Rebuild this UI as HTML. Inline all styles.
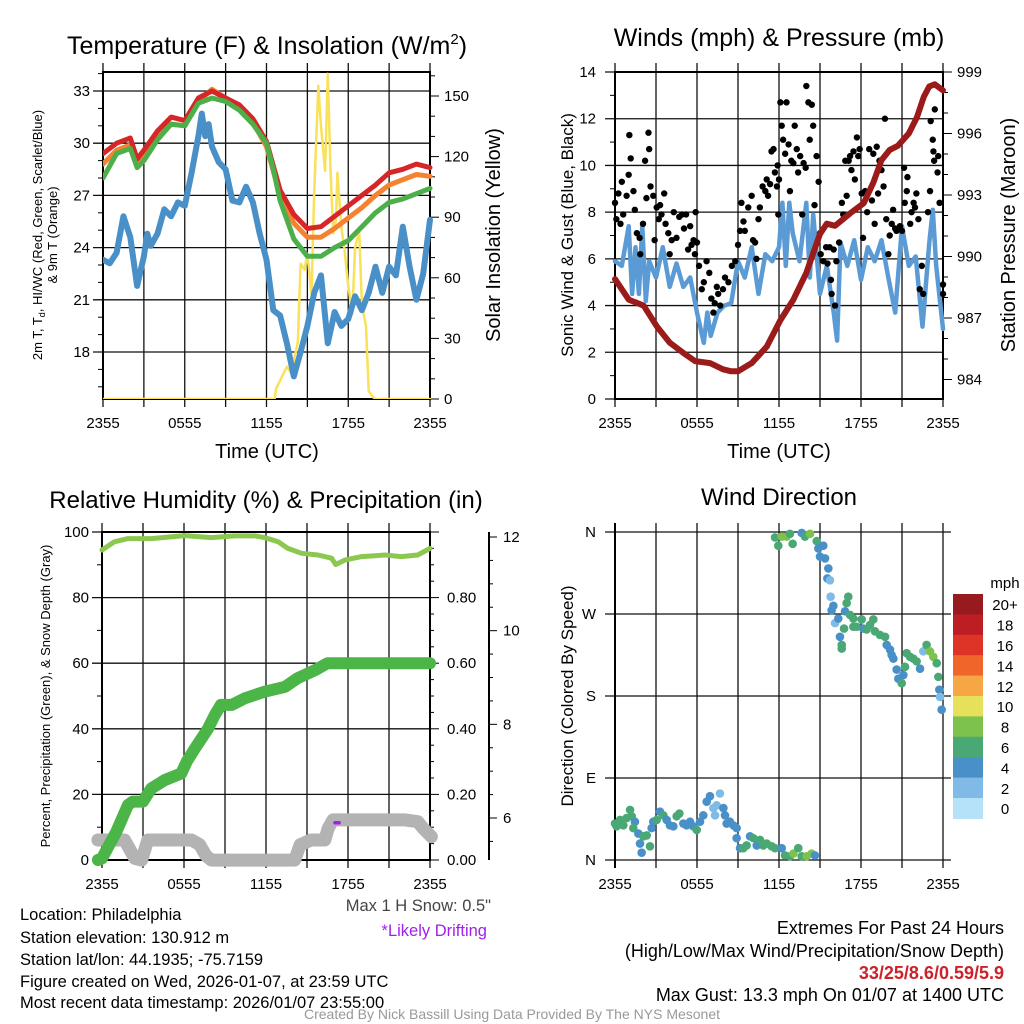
<!DOCTYPE html>
<html><head><meta charset="utf-8"><style>
body{margin:0;background:#fff}
svg{display:block}
text{font-family:"Liberation Sans",sans-serif}
</style></head><body>
<svg id="s" width="1024" height="1024" viewBox="0 0 1024 1024" xmlns="http://www.w3.org/2000/svg">
<text x="267" y="54" font-size="25" text-anchor="middle">Temperature (F) &amp; Insolation (W/m<tspan font-size="15" dy="-10">2</tspan><tspan dy="10">)</tspan></text>
<text x="779" y="46" font-size="25" text-anchor="middle">Winds (mph) &amp; Pressure (mb)</text>
<text x="266" y="508" font-size="24" text-anchor="middle">Relative Humidity (%) &amp; Precipitation (in)</text>
<text x="779" y="505" font-size="24" text-anchor="middle">Wind Direction</text>

<text x="267" y="458" font-size="20" text-anchor="middle">Time (UTC)</text>
<text x="779" y="458" font-size="20" text-anchor="middle">Time (UTC)</text>
<text transform="translate(42,235) rotate(-90)" font-size="13" text-anchor="middle">2m T, T<tspan font-size="9" dy="3">d</tspan><tspan dy="-3">, HI/WC (Red, Green, Scarlet/Blue)</tspan></text>
<text transform="translate(57,235) rotate(-90)" font-size="13" text-anchor="middle">&amp; 9m T (Orange)</text>
<text transform="translate(500,235) rotate(-90)" font-size="20" text-anchor="middle">Solar Insolation (Yellow)</text>
<text transform="translate(573,235) rotate(-90)" font-size="17" text-anchor="middle">Sonic Wind &amp; Gust (Blue, Black)</text>
<text transform="translate(1015,235) rotate(-90)" font-size="20" text-anchor="middle">Station Pressure (Maroon)</text>
<text transform="translate(50,696) rotate(-90)" font-size="13" text-anchor="middle">Percent, Precipitation (Green), &amp; Snow Depth (Gray)</text>
<text transform="translate(573,696) rotate(-90)" font-size="17" text-anchor="middle">Direction (Colored By Speed)</text>

<g id="g1"></g><g id="g2"></g><g id="g3"></g><g id="g4"></g>

<g font-size="16.5">
<text x="20" y="920">Location: Philadelphia</text>
<text x="20" y="943">Station elevation: 130.912 m</text>
<text x="20" y="965">Station lat/lon: 44.1935; -75.7159</text>
<text x="20" y="987">Figure created on Wed, 2026-01-07, at 23:59 UTC</text>
<text x="20" y="1008">Most recent data timestamp: 2026/01/07 23:55:00</text>
<text x="491" y="911" text-anchor="end" fill="#444">Max 1 H Snow: 0.5"</text>
<text x="487" y="936" text-anchor="end" fill="#a020f0">*Likely Drifting</text>
<text x="1004" y="934" text-anchor="end" font-size="18">Extremes For Past 24 Hours</text>
<text x="1004" y="957" text-anchor="end" font-size="18">(High/Low/Max Wind/Precipitation/Snow Depth)</text>
<text x="1004" y="979" text-anchor="end" font-size="18" fill="#cc2229" font-weight="bold">33/25/8.6/0.59/5.9</text>
<text x="1004" y="1001" text-anchor="end" font-size="18">Max Gust: 13.3 mph On 01/07 at 1400 UTC</text>
<text x="512" y="1019" text-anchor="middle" font-size="14" fill="#999">Created By Nick Bassill Using Data Provided By The NYS Mesonet</text>
</g>
</svg>
<script>
// ---------- DATA ----------
const xTickLabels = ["2355","0555","1155","1755","2355"];
// Panel 1 (hours since 2355, degF)
const redT = [0,1,2,2.5,3,4,5,6,7,8,9,10,11,12,12.5,13,14,15,16,17,18,19,20,21,22,23,24];
const redV = [29.4,30.0,30.3,29.1,29.6,30.7,31.5,31.3,32.6,33.0,32.6,32.2,31.4,30.1,28.7,27.3,25.9,25.1,25.2,25.8,26.4,27.0,27.6,28.3,28.5,28.8,28.6];
const orangeV = [28.8,29.6,29.9,28.8,29.3,30.3,31.1,31.0,32.4,33.1,32.6,32.0,31.2,29.8,28.4,27.0,25.4,24.6,24.6,25.1,25.7,26.3,27.0,27.6,27.9,28.2,28.1];
const greenV = [28.0,29.4,29.7,28.6,29.0,30.2,31.1,31.0,32.3,32.6,32.4,31.9,31.1,30.0,28.5,26.7,24.5,23.5,23.5,24.0,24.4,25.2,26.0,26.6,26.8,27.1,27.4];
const blueT = [0,0.5,1,1.5,2,2.5,3,3.25,3.5,4,4.5,5,5.5,6,6.5,7,7.25,7.5,7.75,8,8.5,9,9.5,10,10.5,11,11.5,12,12.5,13,13.5,14,14.5,15,15.5,16,16.5,17,17.5,18,18.5,19,19.5,20,20.5,21,21.5,22,22.5,23,23.5,24];
const blueV = [23.3,23.1,23.7,25.8,24.6,21.8,23.5,24.8,24.1,24.8,26.2,25.8,26.6,26.4,28.3,30.4,31.7,30.4,31.1,29.8,28.9,28.5,26.7,26.6,27.5,26.6,24.8,23.3,20.4,20.1,18.5,16.6,18.0,19.5,21.4,22.4,18.5,20.3,19.5,19.9,21.2,20.4,21.4,22.9,21.4,22.9,22.4,25.2,22.9,21.0,22.5,25.6];
const solarT = [0,12.6,12.7,13.5,13.8,14.3,14.5,14.8,15,15.3,15.5,15.8,16,16.3,16.5,16.7,16.9,17.1,17.2,17.5,17.7,18,18.3,18.5,18.8,19,19.3,19.5,19.8,20,24];
const solarV = [0,0,5,16,13,28,67,64,72,52,102,155,135,113,161,113,82,89,112,85,75,56,42,75,83,47,36,4,1,0,0];
// Panel 2
const windT = [0,0.5,1,1.25,1.5,1.75,2,2.25,2.5,3,3.5,4,4.5,5,5.5,6,6.5,6.75,7,7.5,8,8.5,9,9.5,10,10.5,11,11.5,12,12.25,12.5,12.75,13,13.5,14,14.25,14.5,15,15.5,16,16.25,16.5,17,17.5,18,18.5,19,19.5,20,20.5,21,21.5,22,22.5,23,23.25,23.5,24];
const windV = [5.9,5.7,7.4,4.5,6.5,4.5,7.4,4.2,5.9,5.2,6.5,4.8,5.8,4.8,5.2,3.7,2.4,3.7,2.7,3.7,4.0,4.1,5.9,5.2,6.5,4.5,6.2,5.9,6.5,8.4,5.7,8.4,7.1,5.9,8.4,5.2,7.9,4.5,5.7,3.7,2.5,6.7,5.7,6.8,5.1,6.5,5.9,6.8,5.2,3.7,7.4,5.7,6.1,3.1,6.7,8.1,5.7,3.0];
const gustT = [0,0.1,0.25,0.4,0.5,0.6,0.85,1.0,1.05,1.15,1.35,1.45,1.6,1.8,1.85,2.05,2.2,2.3,2.45,2.5,2.6,2.8,2.9,3.05,3.2,3.3,3.4,3.6,3.7,3.9,4.0,4.15,4.3,4.5,4.7,4.9,5.05,5.2,5.35,5.5,5.6,5.75,5.85,5.9,6.0,6.15,6.35,6.5,6.7,6.9,7.05,7.2,7.3,7.45,7.55,7.7,7.9,8.05,8.3,8.55,8.8,9.0,9.15,9.25,9.4,9.5,9.75,10.0,10.1,10.25,10.35,10.5,10.6,10.8,11.0,11.1,11.2,11.35,11.45,11.6,11.7,11.85,11.9,11.95,12.0,12.1,12.2,12.3,12.45,12.55,12.7,12.8,12.9,13.05,13.15,13.3,13.4,13.55,13.7,13.8,13.95,14.0,14.15,14.25,14.4,14.5,14.6,14.75,14.9,15.0,15.05,15.25,15.45,15.55,15.7,15.8,15.85,16.0,16.1,16.2,16.4,16.6,16.7,16.85,16.95,17.1,17.2,17.3,17.45,17.55,17.7,17.8,17.9,18.05,18.15,18.3,18.45,18.6,18.8,18.9,19.0,19.15,19.25,19.35,19.5,19.65,19.75,19.85,20.0,20.1,20.25,20.35,20.5,20.6,20.85,21.0,21.15,21.2,21.35,21.4,21.6,21.7,21.85,21.95,22.05,22.2,22.3,22.45,22.55,22.9,23.05,23.1,23.25,23.3,23.35,23.4,23.6,23.65,23.75,24,24];
const gustV = [8.4,7.7,8.8,7.5,9.3,7.9,8.7,9.6,11.3,10.3,8.9,8.1,7.1,6.9,6.2,7.5,10.2,8.6,11.4,10.7,9.1,8.7,6.8,8.2,7.7,8.3,7.9,8.8,7.5,7.1,6.2,6.8,8.0,6.9,7.8,7.9,7.3,7.9,6.4,7.4,6.6,6.8,6.2,8.0,6.7,5.7,4.7,5.0,5.9,5.4,4.3,3.7,4.1,4.8,4.5,4.0,4.7,5.2,5.0,5.7,5.9,6.6,7.2,8.4,7.6,7.2,8.2,8.7,6.8,6.7,6.0,7.7,8.2,9.1,8.9,9.4,8.7,9.2,10.6,10.7,9.7,9.1,10.0,7.9,9.4,12.7,11.7,11.1,10.5,12.7,10.9,8.9,10.2,10.1,11.7,10.7,9.7,10.4,7.9,10.1,9.9,13.4,12.7,11.1,12.6,11.7,8.3,10.4,9.3,7.1,6.2,5.9,6.5,5.8,6.5,5.1,4.5,6.4,4.0,5.9,6.7,8.4,7.9,10.2,8.7,10.2,10.4,9.8,10.6,9.4,11.2,10.4,10.7,8.8,6.9,8.9,8.0,10.7,8.5,10.5,7.5,10.8,8.8,10.2,9.8,9.1,12.0,7.7,6.2,7.0,7.5,8.1,7.3,7.2,7.4,7.2,9.9,8.4,8.9,9.5,7.5,8.0,8.4,8.2,8.8,7.7,4.7,5.7,4.5,8.0,8.9,11.9,11.1,10.6,10.2,12.4,9.7,10.4,8.4,4.5,4.9];
const presT = [0,1,2.1,3.05,4,5,5.85,6.95,7.9,8.5,9,10,11.1,12.1,13.05,14,15,15.5,16.1,17.2,18.2,18.9,19.5,20.1,20.7,21.5,22.1,22.6,23,23.4,24];
const presV = [988.9,987.9,987.6,986.6,985.8,985.3,984.9,984.8,984.5,984.4,984.4,984.8,985.6,986.9,987.9,989.2,991.1,991.6,991.5,992.1,992.6,993.6,994.7,995.2,995.4,996.0,996.8,997.8,998.3,998.4,998.1];
// Panel 3
const rhT = [0,0.9,1.9,3.6,6.05,8.0,9.7,11.2,11.9,12.9,13.6,14.6,15.8,16.8,17.1,17.8,19.0,20.7,21.9,23.1,24];
const rhV = [94.5,97,98,98,98.9,98.3,98.8,98.8,98.3,97,95,93.5,93,92,90.1,91.5,92.5,93,92.5,93,95];
const precipT = [-0.3,0,1.05,1.9,2.25,3.0,3.6,4.6,5.8,6.2,6.8,7.75,8.25,8.7,9.5,10.45,11.9,13.4,14.3,15.6,16.5,24];
const precipV = [0,0.005,0.086,0.168,0.178,0.178,0.218,0.244,0.264,0.30,0.34,0.40,0.442,0.473,0.473,0.493,0.513,0.528,0.554,0.579,0.60,0.60];
const snowT = [-0.3,0,1.65,2.4,2.9,3.35,6.55,7.15,7.6,8.0,14.1,14.5,15.3,16.3,16.55,16.9,22.2,23.1,23.5,24.1];
const snowV = [5.53,5.53,5.53,5.14,5.1,5.53,5.53,5.43,5.2,5.1,5.1,5.43,5.53,5.53,5.78,5.96,5.96,5.92,5.78,5.6];
const driftT = [17.05,17.35];
const driftV = [5.9,5.9];
// Panel 4 (hour, direction deg, speed mph)
const dirT = [0,0.12,0.37,0.61,0.85,1.10,1.22,1.46,1.34,1.71,1.83,1.95,2.07,2.32,2.56,2.68,2.80,3.05,3.29,3.54,3.78,4.02,4.27,4.51,4.71,5.0,5.24,5.49,5.73,5.98,6.22,6.46,6.71,6.95,7.20,7.32,7.44,7.68,7.93,8.05,8.17,8.41,8.66,8.90,8.90,9.15,9.39,9.63,9.88,10.12,10.37,10.61,10.85,11.10,11.46,11.71,12.20,12.44,12.80,13.05,13.41,13.66,14.02,14.39,14.63,
 11.71,11.95,12.20,12.56,12.80,13.0,13.66,13.9,14.27,14.76,14.88,15.24,15.0,15.37,15.61,15.54,15.73,15.78,15.98,15.85,16.10,16.34,16.83,17.07,16.95,17.20,17.44,17.68,17.44,18.05,18.17,18.41,18.66,18.90,19.02,19.39,19.76,19.88,20.12,20.37,20.24,20.61,20.73,20.98,21.10,21.22,21.34,21.59,21.83,22.07,22.32,22.56,22.80,23.05,23.29,23.54,23.66,23.73,23.78,23.90,16.46,16.59,16.76,16.59];
const dirV = [40,37,44,38,46,55,48,42,35,29,18,8,26,27,15,35,42,44,53,49,44,38,37,48,51,40,38,42,37,33,42,49,64,70,57,49,60,73,57,49,40,42,38,35,24,13,13,16,26,24,16,22,16,18,15,13,13,5,4,7,13,4,4,7,5,
 354,345,355,355,358,347,359,355,358,350,342,345,333,331,320,309,307,289,279,274,260,265,273,289,282,269,265,256,256,264,254,253,258,264,251,247,245,236,231,221,225,209,199,194,203,212,227,223,221,218,210,229,236,229,223,216,201,187,179,165,245,236,254,232];
const dirS = [7,7,7,7,7,7,7,5,7,5,5,5,7,7,7,5,5,7,5,7,5,5,5,7,7,5,5,5,5,7,5,5,5,5,3,3,3,3,5,5,5,5,5,5,5,5,7,7,5,7,5,7,7,7,7,7,5,7,7,9,7,7,9,9,5,
 7,7,9,9,7,7,5,7,9,7,5,5,5,5,5,5,3,3,5,5,3,5,5,7,7,7,7,7,7,7,5,7,7,7,7,7,7,5,5,5,5,5,5,7,5,7,7,7,7,7,5,3,7,9,9,7,7,5,3,5,5,7,7,7];
const speedBins = ["0","2","4","6","8","10","12","14","16","18","20+"];
const binColors = ["#b5e2f8","#7fbbe6","#4a90c8","#4aa874","#7cc24c","#e6e05a","#f7a646","#f0652a","#de3428","#bd1e24","#971a1e"];
const dirLabels = ["N","E","S","W","N"];

// ---------- HELPERS ----------
const NS="http://www.w3.org/2000/svg";
function mk(parent, tag, attrs){const e=document.createElementNS(NS,tag);for(const k in attrs)e.setAttribute(k,attrs[k]);parent.appendChild(e);return e;}
function lin(d0,d1,r0,r1){return v=>r0+(v-d0)*(r1-r0)/(d1-d0);}
function pathFrom(ts,vs,xf,yf){return ts.map((t,i)=>(i?"L":"M")+xf(t).toFixed(1)+","+yf(vs[i]).toFixed(1)).join("");}
function txt(g,x,y,s,anchor,size,fill){const t=mk(g,"text",{x:x,y:y,"text-anchor":anchor||"middle","font-size":size||15,fill:fill||"#000"});t.textContent=s;return t;}
function frame(g,L,R,T,B,name){
  const xs=lin(0,24,L,R);
  for(let h=0;h<=24;h+=3){
    const ln=mk(g,"line",{x1:xs(h),x2:xs(h),y1:T-9,y2:B+8,stroke:"#111","stroke-width":1.3});
    
    
  }
  xTickLabels.forEach((s,i)=>{const t=txt(g,xs(i*6),B+29,s,"middle",15);
    
    });
  const r=mk(g,"rect",{x:L,y:T,width:R-L,height:B-T,fill:"none",stroke:"#000","stroke-width":2});
  
  
  return xs;
}
function hgrid(g,L,R,y){const ln=mk(g,"line",{x1:L-10,x2:R,y1:y,y2:y,stroke:"#111","stroke-width":1.3});
  
  }
function series(g,d,color,w,name){const p=mk(g,"path",{d:d,fill:"none",stroke:color,"stroke-width":w,"stroke-linejoin":"round","stroke-linecap":"round"});
  
  return p;}

// ---------- PANEL 1 ----------
(function(){
  const g=document.getElementById("g1");
  const L=103,R=430,T=72,B=399;
  const ys=lin(33,18,91,352);
  const yr=lin(0,150,399,96);
  for(let v=18;v<=33;v+=3){hgrid(g,L,R,ys(v));const t=txt(g,L-13,ys(v)+5,String(v),"end",15);
    
    }
  for(let v=16;v<=34;v++){if(v%3)mk(g,"line",{x1:L-5,x2:L,y1:ys(v),y2:ys(v),stroke:"#000"});}
  for(let v=0;v<=160;v+=10){mk(g,"line",{x1:R,x2:R+(v%30?5:9),y1:yr(v),y2:yr(v),stroke:"#000"});}
  for(let v=0;v<=150;v+=30){const t=txt(g,R+14,yr(v)+5,String(v),"start",15);
    
    }
  const xs=frame(g,L,R,T,B,"temperature");
  const clip=mk(g,"clipPath",{id:"c1"});mk(clip,"rect",{x:L,y:T-6,width:R-L+4,height:B-T+6});
  const s=mk(g,"g",{"clip-path":"url(#c1)"});
  series(s,pathFrom(solarT,solarV,xs,yr),"#f9e159",2.5,"solar-insolation-line");
  series(s,pathFrom(blueT,blueV,xs,ys),"#4a90c8",6,"heat-index-line");
  series(s,pathFrom(redT,orangeV,xs,ys),"#f58231",5,"temp-9m-line");
  series(s,pathFrom(redT,redV,xs,ys),"#d62728",5,"temp-2m-line");
  series(s,pathFrom(redT,greenV,xs,ys),"#4daf4a",5,"dewpoint-line");
})();

// ---------- PANEL 2 ----------
(function(){
  const g=document.getElementById("g2");
  const L=615,R=943,T=72,B=399;
  const ys=lin(0,14,399,72);
  const yp=lin(999,984,72,379.5);
  for(let v=0;v<=14;v+=2){hgrid(g,L,R,ys(v));const t=txt(g,L-19,ys(v)+5,String(v),"end",15);
    
    }
  for(let v=1;v<14;v+=2)mk(g,"line",{x1:L-5,x2:L,y1:ys(v),y2:ys(v),stroke:"#000"});
  for(let v=984;v<=999;v++)mk(g,"line",{x1:R,x2:R+(v%3?5:9),y1:yp(v),y2:yp(v),stroke:"#000"});
  for(let v=984;v<=999;v+=3){const t=txt(g,R+14,yp(v)+5,String(v),"start",15);
    
    }
  const xs=frame(g,L,R,T,B,"winds");
  series(g,pathFrom(windT,windV,xs,ys),"#5b9bd5",4.5,"sonic-wind-line");
  gustT.forEach((t,i)=>{const c=mk(g,"circle",{cx:xs(t),cy:ys(gustV[i]),r:3.2,fill:"#000"});
    
    });
  series(g,pathFrom(presT,presV,xs,yp),"#9b1b1b",6,"pressure-line");
})();

// ---------- PANEL 3 ----------
(function(){
  const g=document.getElementById("g3");
  const L=102,R=430,T=532,B=860;
  const ys=lin(0,100,860,532);
  const yin=lin(0,1,860,532);
  const ysn=lin(6,12,818,537);
  for(let v=0;v<=100;v+=20){hgrid(g,L,R,ys(v));const t=txt(g,L-13,ys(v)+5,String(v),"end",15);
    
    }
  for(let v=10;v<100;v+=20)mk(g,"line",{x1:L-5,x2:L,y1:ys(v),y2:ys(v),stroke:"#000"});
  for(let v=0;v<=1.0001;v+=0.05)mk(g,"line",{x1:R,x2:R+(Math.round(v*100)%20?4:9),y1:yin(v),y2:yin(v),stroke:"#000"});
  for(let v=0;v<=0.8001;v+=0.2){const t=txt(g,R+17,yin(v)+5,v.toFixed(2),"start",15);
    
    }
  const ax=mk(g,"line",{x1:489,x2:489,y1:532,y2:860,stroke:"#000","stroke-width":2});
  
  
  for(let v=5.5;v<=12.01;v+=0.5)mk(g,"line",{x1:489,x2:489+(v%2?4:8),y1:ysn(v),y2:ysn(v),stroke:"#000"});
  for(let v=6;v<=12;v+=2){const t=txt(g,503,ysn(v)+5,String(v),"start",15);
    
    }
  const xs=frame(g,L,R,T,B,"humidity");
  series(g,pathFrom(snowT,snowV,xs,ysn),"#b3b3b3",13,"snow-depth-line");
  series(g,pathFrom(precipT,precipV,xs,yin),"#4bb547",12,"precipitation-line");
  series(g,pathFrom(rhT,rhV,xs,ys),"#8cc850",5,"relative-humidity-line");
  series(g,pathFrom(driftT,driftV,xs,ysn),"#a020f0",3.5,"drifting-marker");
})();

// ---------- PANEL 4 ----------
(function(){
  const g=document.getElementById("g4");
  const L=615,R=943,T=532,B=860;
  const yd=lin(0,360,860,532);
  dirLabels.forEach((s,i)=>{const y=yd(i*90);
    const ln=mk(g,"line",{x1:L-10,x2:951,y1:y,y2:y,stroke:"#111","stroke-width":1.3});
    
    
    const t=txt(g,L-19,y+5,s,"end",15);
    
    });
  const xs=lin(0,24,L,R);
  for(let h=0;h<=24;h+=3){
    mk(g,"line",{x1:xs(h),x2:xs(h),y1:T-9,y2:B+8,stroke:"#111","stroke-width":1.3});
  }
  xTickLabels.forEach((s,i)=>{const t=txt(g,xs(i*6),B+29,s,"middle",15);
    
    });
  const ax=mk(g,"line",{x1:L,x2:L,y1:T-9,y2:B+8,stroke:"#000","stroke-width":2});
  
  
  dirT.forEach((t,i)=>{const bi=Math.min(10,Math.floor(dirS[i]/2));
    const c=mk(g,"circle",{cx:xs(t),cy:yd(dirV[i]),r:4.3,fill:binColors[bi]});
    
    });
  const cb=mk(g,"g",{});
  
  
  const top=594,h=20.4;
  const mt=txt(cb,1005,588,"mph","middle",15);
  
  
  for(let k=0;k<11;k++){const idx=10-k;const y=top+k*h;
    const r=mk(cb,"rect",{x:953,y:y,width:30,height:h+0.5,fill:binColors[idx]});
    
    
    const t=txt(cb,1005,y+h/2+6,speedBins[idx],"middle",15);
    
    }
})();
</script>
</body></html>
